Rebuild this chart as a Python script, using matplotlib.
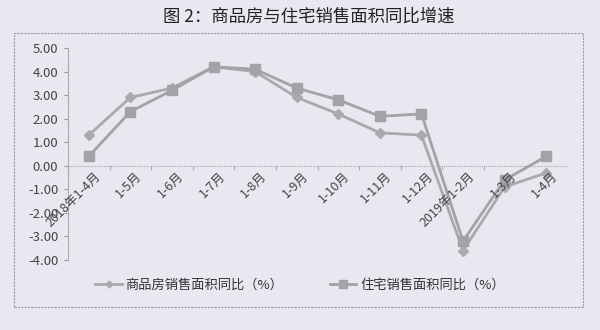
import numpy as np
import matplotlib
matplotlib.use('Agg')
import matplotlib.pyplot as plt
from matplotlib.patches import Rectangle

plt.rcParams['font.family'] = ['Noto Sans CJK SC', 'DejaVu Sans']

# datos
meses = ['2018年1-4月', '1-5月', '1-6月', '1-7月', '1-8月', '1-9月', '1-10月',
         '1-11月', '1-12月', '2019年1-2月', '1-3月', '1-4月']
shangpinfang = [1.3, 2.9, 3.3, 4.2, 4.0, 2.9, 2.2, 1.4, 1.3, -3.6, -0.9, -0.3]
zhuzhai = [0.4, 2.3, 3.2, 4.2, 4.1, 3.3, 2.8, 2.1, 2.2, -3.2, -0.6, 0.4]
yticks = [5, 4, 3, 2, 1, 0, -1, -2, -3, -4]
nombres = ['商品房销售面积同比（%）', '住宅销售面积同比（%）']
titulo = '图 2：商品房与住宅销售面积同比增速'

fondo = '#e7e8f0'
gris = '#a3a3a6'

fig = plt.figure(figsize=(6, 3.3), dpi=100, facecolor=fondo)
ax = fig.add_axes([68/600, 1-260/330, (567-68)/600, (260-48)/330])
ax.set_facecolor(fondo)

# marco exterior
fig.patches.append(Rectangle((14/600, 1-307/330), (583-14)/600, (307-33)/330,
                             transform=fig.transFigure, fill=False,
                             edgecolor='#9a9aa0', lw=0.8, ls=(0, (2, 1))))

x = np.arange(len(meses))
ax.plot(x, shangpinfang, color='#aaaaad', lw=2, marker='D', ms=5,
        label=nombres[0], zorder=3)
ax.plot(x, zhuzhai, color=gris, lw=2, marker='s', ms=7.5,
        label=nombres[1], zorder=3)

ax.set_xlim(-0.5, len(meses) - 0.5)
ax.set_ylim(-4, 5)
ax.set_yticks(yticks)
ax.set_yticklabels([f'{v:.2f}' for v in yticks], fontsize=9.5, color='#444')
ax.tick_params(axis='y', length=3, color='#999', pad=4)

for s in ['top', 'right', 'bottom']:
    ax.spines[s].set_visible(False)
ax.spines['left'].set_color('#aaa')
ax.spines['left'].set_linewidth(0.8)

# eje x en cero
ax.axhline(0, color='#aaa', lw=0.8, ls=(0, (1, 1)), zorder=1)
ax.set_xticks([])
for b in np.arange(-0.5, len(meses), 1):
    ax.plot([b, b], [0, -0.12], color='#aaa', lw=0.8, zorder=1)
for i, m in enumerate(meses):
    ax.text(i + 0.12, -0.15, m, rotation=45, ha='right', va='top',
            rotation_mode='anchor', fontsize=9, color='#444')

leg = fig.legend(loc='center', bbox_to_anchor=(0.5, 1-285/330), ncol=2,
                 frameon=False, fontsize=9.5, handlelength=2.0,
                 columnspacing=3.5, handletextpad=0.3, markerscale=0.7)
for t in leg.get_texts():
    t.set_color('#333')

fig.text(0.515, 1-17/330, titulo, ha='center', va='center', fontsize=12.5,
         color='#222', fontweight='medium')

fig.savefig('out.png', dpi=100, facecolor=fondo)
